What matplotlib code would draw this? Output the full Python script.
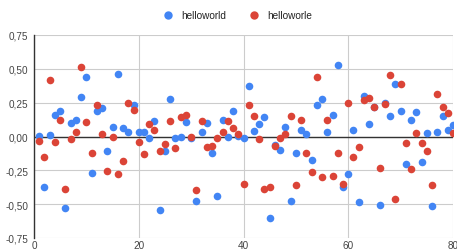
import matplotlib.pyplot as plt
from matplotlib.ticker import FuncFormatter

# x positions shared by both series
x = list(range(1, 81))

helloworld = [
    0.005, -0.37, 0.01, 0.16, 0.19, -0.53, 0.10, 0.12, 0.29, 0.44,
    -0.27, 0.19, 0.21, -0.11, 0.07, 0.46, 0.06, 0.03, 0.23, 0.035,
    0.03, -0.01, 0.115, -0.54, -0.11, 0.28, -0.01, 0.0, 0.11, -0.01,
    -0.48, 0.035, 0.10, -0.12, -0.44, 0.12, 0.0, 0.185, 0.005, -0.01,
    0.37, 0.04, 0.09, 0.145, -0.605, -0.06, -0.10, 0.07, -0.48, -0.12,
    0.05, 0.015, -0.17, 0.23, 0.28, 0.03, 0.16, 0.53, -0.375, -0.28,
    0.05, -0.485, 0.30, 0.09, 0.22, -0.505, 0.25, 0.15, 0.39, 0.19,
    -0.20, 0.12, 0.18, -0.19, 0.025, -0.51, 0.035, 0.15, 0.045, 0.085,
]

helloworle = [
    -0.035, -0.15, 0.42, -0.04, 0.12, -0.39, -0.02, 0.035, 0.51, 0.105,
    -0.12, 0.23, 0.015, -0.255, 0.0, -0.28, -0.18, 0.245, 0.195, -0.04,
    -0.13, 0.09, 0.045, -0.11, -0.055, 0.115, -0.085, 0.145, 0.16, 0.0,
    -0.395, 0.115, -0.08, -0.07, -0.01, 0.03, 0.115, 0.06, 0.02, -0.35,
    0.235, 0.15, -0.015, -0.39, -0.375, -0.07, -0.01, 0.02, 0.15, -0.36,
    0.12, -0.125, -0.26, 0.44, -0.30, 0.125, -0.295, -0.12, -0.35, 0.25,
    -0.155, -0.08, 0.27, 0.285, 0.22, -0.235, 0.24, 0.455, -0.465, 0.385,
    -0.05, -0.24, 0.025, -0.045, -0.11, -0.36, 0.315, 0.22, 0.17, 0.025,
]

y_ticks = [-0.75, -0.5, -0.25, 0.0, 0.25, 0.5, 0.75]
x_ticks = [0, 20, 40, 60, 80]

plt.rcParams['font.family'] = ['Liberation Sans', 'DejaVu Sans']

fig = plt.figure(figsize=(4.57, 2.53), dpi=100)
ax = fig.add_axes([34 / 457, 1 - 239 / 253, (453 - 34) / 457, (239 - 36) / 253])

ax.scatter(x, helloworld, s=30, color='#4285F4', label='helloworld', zorder=3, linewidths=0)
ax.scatter(x, helloworle, s=30, color='#DB4437', label='helloworle', zorder=4, linewidths=0)

ax.set_xlim(0, 80)
ax.set_ylim(-0.75, 0.75)
ax.set_xticks(x_ticks)
ax.set_yticks(y_ticks)
ax.yaxis.set_major_formatter(FuncFormatter(lambda v, p: f"{v:.2f}".replace('.', ',')))

ax.grid(color='#cccccc', linewidth=0.8, zorder=0)
ax.axhline(0, color='#333333', linewidth=1, zorder=2)
for side in ['top', 'right', 'bottom']:
    ax.spines[side].set_visible(False)
ax.spines['left'].set_color('#333333')
ax.spines['left'].set_linewidth(1)
ax.tick_params(axis='y', length=0, labelsize=7.2, colors='#444444', pad=4)
ax.tick_params(axis='x', length=0, labelsize=7.2, colors='#444444', pad=1.5)

fig.legend(loc='center', bbox_to_anchor=(0.515, 0.937), ncol=2, frameon=False,
           fontsize=7.2, handletextpad=0.3, columnspacing=1.8, markerscale=1.1,
           labelcolor='#222222')

fig.savefig('out.png', dpi=100)
